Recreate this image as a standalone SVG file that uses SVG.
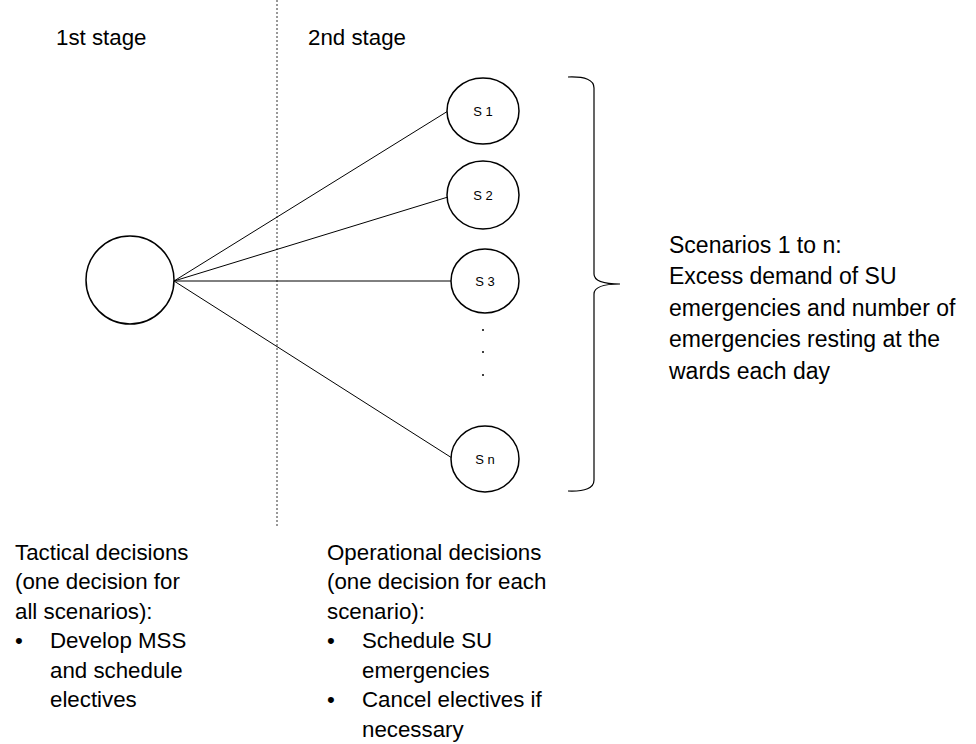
<svg xmlns="http://www.w3.org/2000/svg" width="976" height="744" viewBox="0 0 976 744">
<style>
.t{font-family:"Liberation Sans",Arial,sans-serif;font-size:22.3px;fill:#000}
.r{font-family:"Liberation Sans",Arial,sans-serif;font-size:23px;fill:#000}
.s{font-family:"Liberation Sans",Arial,sans-serif;font-size:13px;fill:#000;text-anchor:middle}
.n{fill:#fff;stroke:#000;stroke-width:1.5}
.c{stroke:#000;stroke-width:1;fill:none}
</style>
<rect width="976" height="744" fill="#fff"/>
<line x1="277" y1="0" x2="277" y2="527" stroke="#333" stroke-width="1" stroke-dasharray="2 2"/>
<text class="t" x="56" y="45">1st stage</text>
<text class="t" x="308" y="45">2nd stage</text>
<g id="connectors">
<line class="c" x1="174" y1="281" x2="448" y2="111"/>
<line class="c" x1="174" y1="281" x2="448" y2="197"/>
<line class="c" x1="174" y1="281" x2="451" y2="281"/>
<line class="c" x1="174" y1="281" x2="452" y2="458"/>
</g>
<g id="root"><circle class="n" cx="130" cy="280" r="44"/></g>
<g id="s1"><ellipse class="n" cx="483" cy="111" rx="36" ry="33"/><text class="s" x="483" y="116">S 1</text></g>
<g id="s2"><ellipse class="n" cx="483" cy="195" rx="36" ry="34"/><text class="s" x="483" y="200">S 2</text></g>
<g id="s3"><ellipse class="n" cx="485" cy="281" rx="34" ry="32"/><text class="s" x="485" y="286">S 3</text></g>
<g id="sn"><ellipse class="n" cx="485" cy="459" rx="34" ry="33"/><text class="s" x="485" y="464">S n</text></g>
<g id="dots" fill="#000">
<circle cx="483" cy="330" r="1"/>
<circle cx="483" cy="352" r="1"/>
<circle cx="483" cy="375" r="1"/>
</g>
<g id="brace">
<path d="M568,77 Q594,76 594,88 L594,274 Q594,284 620,284 Q594,284 594,294 L594,480 Q594,492 568,491" fill="none" stroke="#000" stroke-width="1.2"/>
</g>
<g id="scenarios-label">
<text class="r" x="669" y="253">Scenarios 1 to n:</text>
<text class="r" x="669" y="284">Excess demand of SU</text>
<text class="r" x="669" y="316">emergencies and number of</text>
<text class="r" x="669" y="347">emergencies resting at the</text>
<text class="r" x="669" y="379">wards each day</text>
</g>
<g id="tactical">
<text class="t" x="15" y="560">Tactical decisions</text>
<text class="t" x="15" y="589">(one decision for</text>
<text class="t" x="15" y="619">all scenarios):</text>
<text class="t" x="15" y="648">•</text>
<text class="t" x="50" y="648">Develop MSS</text>
<text class="t" x="50" y="678">and schedule</text>
<text class="t" x="50" y="707">electives</text>
</g>
<g id="operational">
<text class="t" x="327" y="560">Operational decisions</text>
<text class="t" x="327" y="589">(one decision for each</text>
<text class="t" x="327" y="619">scenario):</text>
<text class="t" x="327" y="648">•</text>
<text class="t" x="362" y="648">Schedule SU</text>
<text class="t" x="362" y="678">emergencies</text>
<text class="t" x="327" y="707">•</text>
<text class="t" x="362" y="707">Cancel electives if</text>
<text class="t" x="362" y="737">necessary</text>
</g>
</svg>
